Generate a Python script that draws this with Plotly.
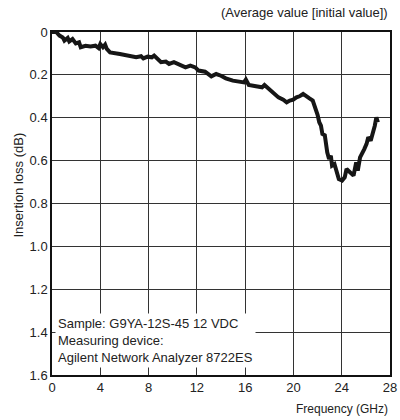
import plotly.graph_objects as go

freq_ghz = [0.0, 0.35, 0.62, 0.89, 1.03, 1.3, 1.43, 1.7, 1.97, 2.24, 2.38, 2.78, 3.19, 3.6, 3.86,
            4.0, 4.22, 4.4, 4.54, 4.81, 5.62, 6.43, 6.97, 7.38, 7.57, 7.92, 8.27, 8.46, 8.86,
            9.03, 9.43, 9.7, 10.1, 10.5, 11.06, 11.46, 11.87, 12.14, 12.68, 13.2, 13.6, 14.0,
            14.4, 14.98, 15.4, 15.9, 16.06, 16.3, 16.9, 17.4, 17.6, 17.95, 18.2, 18.5, 18.76,
            19.16, 19.44, 19.7, 19.98, 20.25, 20.5, 20.8, 21.06, 21.33, 21.6, 21.87, 22.0,
            22.14, 22.28, 22.4, 22.6, 22.8, 22.95, 23.1, 23.2, 23.4, 23.6, 23.76, 24.03,
            24.25, 24.4, 24.7, 24.98, 25.2, 25.33, 25.52, 25.7, 25.87, 26.06, 26.2, 26.4,
            26.6, 26.74, 26.87, 27.0]
loss_db = [0.0, 0.0, 0.017, 0.025, 0.04, 0.028, 0.044, 0.033, 0.053, 0.048, 0.071, 0.064, 0.068, 0.064, 0.075,
           0.056, 0.071, 0.059, 0.079, 0.095, 0.103, 0.11, 0.118, 0.113, 0.123, 0.115, 0.118, 0.11, 0.134,
           0.141, 0.138, 0.149, 0.141, 0.149, 0.165, 0.157, 0.165, 0.18, 0.185, 0.207, 0.196, 0.204,
           0.216, 0.227, 0.23, 0.235, 0.222, 0.247, 0.253, 0.258, 0.247, 0.263, 0.274, 0.289, 0.305,
           0.316, 0.328, 0.32, 0.316, 0.305, 0.3, 0.289, 0.297, 0.31, 0.32, 0.362, 0.386,
           0.421, 0.437, 0.476, 0.482, 0.561, 0.592, 0.577, 0.623, 0.616, 0.654, 0.686, 0.693,
           0.678, 0.639, 0.654, 0.67, 0.608, 0.647, 0.585, 0.569, 0.546, 0.522, 0.491, 0.507,
           0.468, 0.437, 0.398, 0.421]

x_ticks = [0, 4, 8, 12, 16, 20, 24, 28]
y_ticks = [0, 0.2, 0.4, 0.6, 0.8, 1.0, 1.2, 1.4, 1.6]
y_tick_labels = ["0", "0.2", "0.4", "0.6", "0.8", "1.0", "1.2", "1.4", "1.6"]

FONT = "Arial, Liberation Sans, Helvetica, sans-serif"

fig = go.Figure()
fig.add_trace(go.Scatter(x=freq_ghz, y=loss_db, mode="lines",
                         line=dict(color="#161616", width=4, shape="linear"),
                         hoverinfo="skip", showlegend=False))

fig.update_layout(
    width=400, height=420,
    margin=dict(l=52, r=3, t=32, b=45),
    paper_bgcolor="white", plot_bgcolor="white",
    font=dict(family=FONT, size=13, color="#222"),
    showlegend=False,
    xaxis=dict(range=[0, 28], tickvals=x_ticks, ticktext=[str(v) for v in x_ticks],
               showgrid=True, gridcolor="#333", gridwidth=1,
               showline=True, linecolor="#111", linewidth=1.5, mirror=True,
               zeroline=False, ticks="", ticklabeloverflow="allow",
               tickfont=dict(size=13, family=FONT, color="#222")),
    yaxis=dict(range=[1.6, 0], tickvals=y_ticks, ticktext=y_tick_labels,
               showgrid=True, gridcolor="#333", gridwidth=1,
               showline=True, linecolor="#111", linewidth=1.5, mirror=True,
               zeroline=False, ticks="", ticklabeloverflow="allow",
               tickfont=dict(size=13, family=FONT, color="#222")),
)

fig.add_annotation(text="(Average value [initial value])", xref="paper", yref="paper",
                   x=1.0, y=1.058, xanchor="right", yanchor="middle", showarrow=False,
                   font=dict(size=13, family=FONT, color="#222"))
fig.add_annotation(text="Frequency (GHz)", xref="paper", yref="paper",
                   x=1.0, y=-0.099, xanchor="right", yanchor="middle", showarrow=False,
                   font=dict(size=12, family=FONT, color="#222"))
fig.add_annotation(text="Insertion loss (dB)", xref="paper", yref="paper",
                   x=-0.099, y=0.554, xanchor="center", yanchor="middle", textangle=-90,
                   showarrow=False, font=dict(size=13, family=FONT, color="#222"))
fig.add_annotation(text="Sample: G9YA-12S-45 12 VDC<br>Measuring device:<br>Agilent Network Analyzer 8722ES",
                   xref="paper", yref="paper", x=0.008, y=0.02, xanchor="left", yanchor="bottom",
                   align="left", showarrow=False, bgcolor="white", borderpad=2,
                   font=dict(size=13, family=FONT, color="#222"))

fig.write_html("out.html", config={"displayModeBar": False},
               post_script="document.body.style.margin='0';document.body.style.padding='0';")
